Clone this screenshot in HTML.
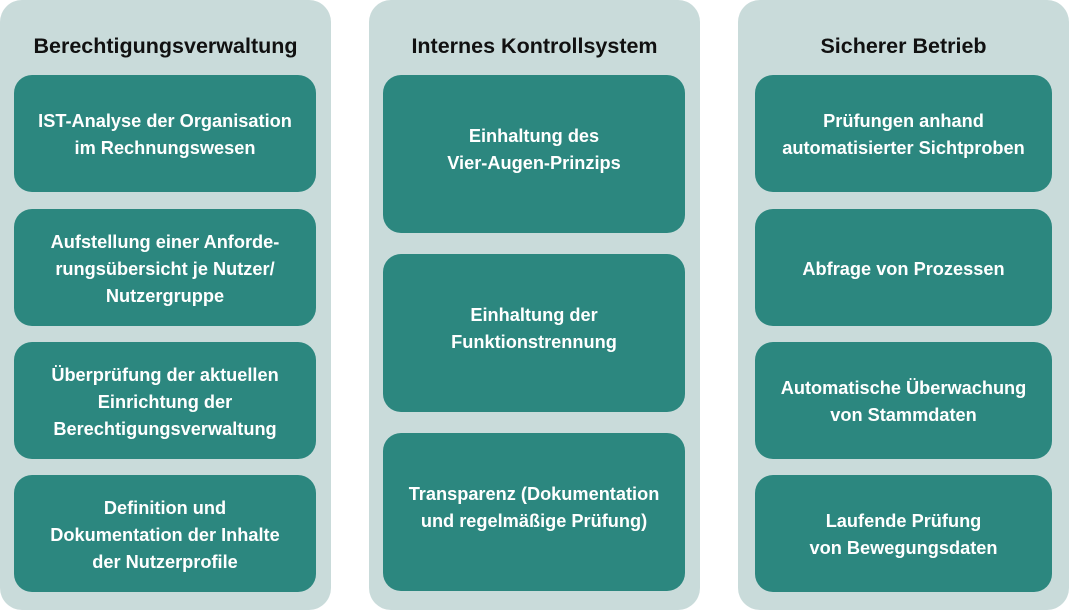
<!DOCTYPE html>
<html><head><meta charset="utf-8"><style>
body{margin:0;width:1069px;height:610px;background:#fff;position:relative;font-family:"Liberation Sans",sans-serif;overflow:hidden}
.p{position:absolute;top:0;height:610px;width:331px;background:#c9dbda;border-radius:22px}
.t{position:absolute;left:0;right:0;top:34px;text-align:center;font-weight:bold;font-size:21.5px;color:#111}
.b{position:absolute;background:#2c877f;border-radius:18px;color:#fff;font-weight:bold;font-size:18.2px;line-height:27px;display:flex;align-items:center;justify-content:center;text-align:center;box-sizing:border-box;padding-top:3px}
.m{padding-top:0;padding-bottom:9px}
</style></head><body>
<div class="p" style="left:0"><div class="t">Berechtigungsverwaltung</div></div>
<div class="p" style="left:369px"><div class="t">Internes Kontrollsystem</div></div>
<div class="p" style="left:738px"><div class="t">Sicherer Betrieb</div></div>

<div class="b" style="left:14px;top:75px;width:302px;height:117px">IST-Analyse der Organisation<br>im Rechnungswesen</div>
<div class="b" style="left:14px;top:209px;width:302px;height:117px">Aufstellung einer Anforde-<br>rungsübersicht je Nutzer/<br>Nutzergruppe</div>
<div class="b" style="left:14px;top:342px;width:302px;height:117px">Überprüfung der aktuellen<br>Einrichtung der<br>Berechtigungsverwaltung</div>
<div class="b" style="left:14px;top:475px;width:302px;height:117px">Definition und<br>Dokumentation der Inhalte<br>der Nutzerprofile</div>

<div class="b m" style="left:383px;top:75px;width:302px;height:158px">Einhaltung des<br>Vier-Augen-Prinzips</div>
<div class="b m" style="left:383px;top:254px;width:302px;height:158px">Einhaltung der<br>Funktionstrennung</div>
<div class="b m" style="left:383px;top:433px;width:302px;height:158px">Transparenz (Dokumentation<br>und regelmäßige Prüfung)</div>

<div class="b" style="left:755px;top:75px;width:297px;height:117px">Prüfungen anhand<br>automatisierter Sichtproben</div>
<div class="b" style="left:755px;top:209px;width:297px;height:117px">Abfrage von Prozessen</div>
<div class="b" style="left:755px;top:342px;width:297px;height:117px">Automatische Überwachung<br>von Stammdaten</div>
<div class="b" style="left:755px;top:475px;width:297px;height:117px">Laufende Prüfung<br>von Bewegungsdaten</div>
</body></html>
